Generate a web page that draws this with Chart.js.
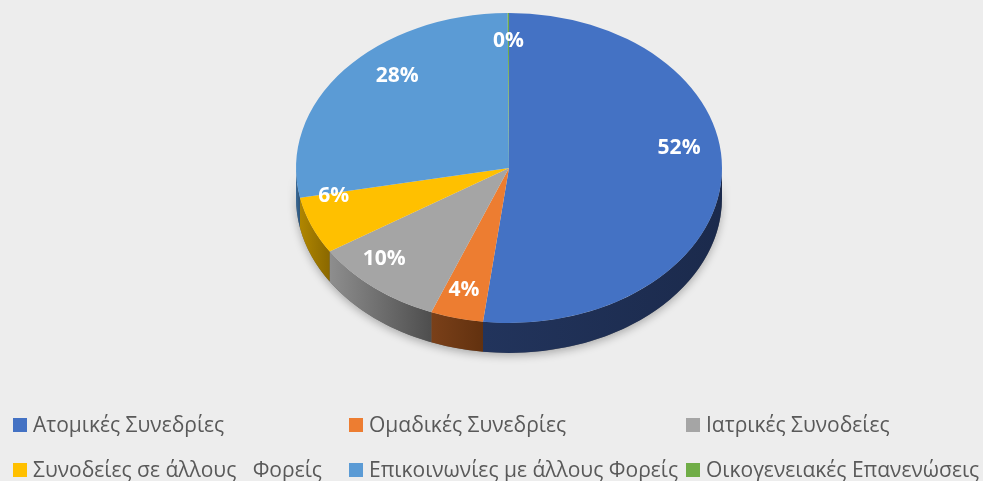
<!DOCTYPE html>
<html>
<head>
<meta charset="utf-8">
<script src="https://cdn.jsdelivr.net/npm/chart.js@4/dist/chart.umd.min.js"></script>
<style>
  html, body { margin: 0; padding: 0; background: #EDEDED; }
  #wrap { position: relative; width: 983px; height: 481px; overflow: hidden; background: #EDEDED; }
  #c { position: absolute; left: 0; top: 0; }
  .lg { position: absolute; white-space: pre; font-family: "Open Sans", sans-serif; font-size: 21px; color: #595959; line-height: 24px; }
  .lg .sw { position: absolute; left: 0; top: 5px; width: 14px; height: 14px; }
  .lg .tx { position: absolute; left: 20px; top: -1px; }
</style>
</head>
<body>
<div id="wrap">
  <canvas id="c" width="983" height="481"></canvas>
</div>
<script>
// ---- data ----
const categories = [
  "Ατομικές Συνεδρίες",
  "Ομαδικές Συνεδρίες",
  "Ιατρικές Συνοδείες",
  "Συνοδείες σε άλλους   Φορείς",
  "Επικοινωνίες με άλλους Φορείς",
  "Οικογενειακές Επανενώσεις"
];
const values = [52, 4, 10, 6, 28, 0.1];

// ---- styles ----
const colors = ["#4472C4", "#ED7D31", "#A5A5A5", "#FFC000", "#5B9BD5", "#70AD47"];
const sideLight = ["#22345C", "#7A4019", "#8E8E8E", "#B08600", "#3A6A98", "#4C7A2E"];
const sideDark  = ["#1B2A4C", "#62310F", "#4E4E4E", "#8A6800", "#2C5378", "#3A6023"];

const K = 155 / 213;      // vertical squash of the pie
const TOP_CY = 168;       // screen y of the ellipse centre
const DEPTH = 30;         // screen depth of the pie side

const pie3d = {
  id: 'pie3d',
  beforeDatasetsDraw(chart) {
    const ctx = chart.ctx;
    const arcs = chart.getDatasetMeta(0).data;
    const a0 = arcs[0];
    const cx = a0.x, cy = a0.y, R = a0.outerRadius;
    ctx.save();
    ctx.translate(cx, TOP_CY);
    ctx.scale(1, K);
    ctx.translate(-cx, -cy);
    const d = DEPTH / K;
    ctx.save();
    ctx.shadowColor = 'rgba(0,0,0,0.28)';
    ctx.shadowBlur = 8;
    ctx.shadowOffsetY = 3;
    ctx.beginPath();
    ctx.arc(cx, cy, R, 0, Math.PI);
    ctx.lineTo(cx - R, cy + d);
    ctx.arc(cx, cy + d, R, Math.PI, 0, true);
    ctx.closePath();
    ctx.fillStyle = '#666';
    ctx.fill();
    ctx.restore();
    arcs.forEach((arc, i) => {
      const p = arc.getProps(['startAngle', 'endAngle']);
      const s = Math.max(p.startAngle, 0), e = Math.min(p.endAngle, Math.PI);
      if (s >= e) return;
      const x1 = cx + R * Math.cos(e), x2 = cx + R * Math.cos(s);
      const g = ctx.createLinearGradient(Math.min(x1, x2), 0, Math.max(x1, x2), 0);
      g.addColorStop(0, sideLight[i]);
      g.addColorStop(1, sideDark[i]);
      ctx.beginPath();
      ctx.arc(cx, cy, R, s, e);
      ctx.lineTo(cx + R * Math.cos(e), cy + R * Math.sin(e) + d);
      ctx.arc(cx, cy + d, R, e, s, true);
      ctx.closePath();
      ctx.fillStyle = g;
      ctx.fill();
    });
  },
  afterDatasetsDraw(chart) {
    const ctx = chart.ctx;
    ctx.restore();
    const arcs = chart.getDatasetMeta(0).data;
    const total = values.reduce((a, b) => a + b, 0);
    ctx.save();
    ctx.fillStyle = '#FFFFFF';
    ctx.font = 'bold 21px "Open Sans", sans-serif';
    ctx.textAlign = 'center';
    ctx.textBaseline = 'middle';
    arcs.forEach((arc, i) => {
      const p = arc.getProps(['startAngle', 'endAngle', 'x', 'outerRadius']);
      const m = (p.startAngle + p.endAngle) / 2;
      const sn = Math.sin(m), cs = Math.cos(m);
      const left = Math.max(0, -cs);
      const fx = 0.8 + 0.25 * left * Math.max(0, sn) - 0.25 * left * Math.max(0, -sn);
      const x = p.x + p.outerRadius * fx * cs;
      const y = TOP_CY + K * p.outerRadius * 0.82 * sn - 30 * (1 - Math.abs(sn));
      ctx.fillText(Math.round(values[i] / total * 100) + '%', x, y);
    });
    ctx.restore();
  }
};

const chart = new Chart(document.getElementById('c'), {
  type: 'pie',
  data: {
    labels: categories,
    datasets: [{
      data: values,
      backgroundColor: colors,
      borderWidth: 0,
      clip: false
    }]
  },
  options: {
    responsive: false,
    animation: false,
    layout: { padding: { left: 35, right: 0, top: 27, bottom: 28 } },
    plugins: { legend: { display: false }, tooltip: { enabled: false } },
    events: []
  },
  plugins: [pie3d]
});

// ---- legend (HTML, built from the chart's own labels/colours) ----
const legendCols = [13, 349, 686];
const legendRows = [413, 458];
const wrap = document.getElementById('wrap');
chart.data.labels.forEach((lab, i) => {
  const d = document.createElement('div');
  d.className = 'lg';
  d.style.left = legendCols[i % 3] + 'px';
  d.style.top = legendRows[Math.floor(i / 3)] + 'px';
  const sw = document.createElement('span');
  sw.className = 'sw';
  sw.style.background = chart.data.datasets[0].backgroundColor[i];
  const tx = document.createElement('span');
  tx.className = 'tx';
  tx.textContent = lab;
  d.appendChild(sw);
  d.appendChild(tx);
  wrap.appendChild(d);
});
</script>
</body>
</html>
